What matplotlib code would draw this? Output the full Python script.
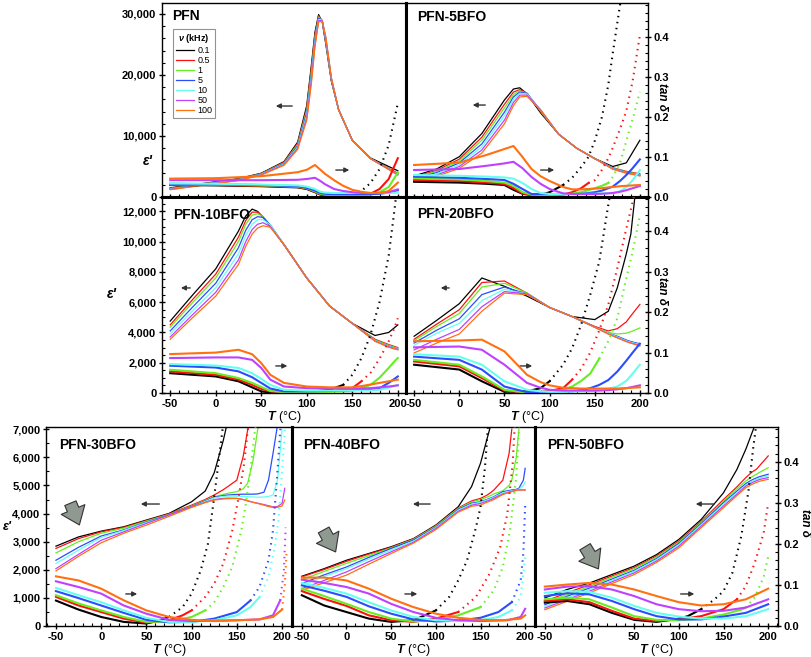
import numpy as np
import matplotlib
matplotlib.use("Agg")
import matplotlib.pyplot as plt
from matplotlib.ticker import MultipleLocator, FuncFormatter

plt.rcParams['font.family'] = ['Liberation Sans', 'DejaVu Sans']
plt.rcParams['font.weight'] = 'bold'
plt.rcParams['axes.unicode_minus'] = False
plt.rcParams['mathtext.fontset'] = 'custom'
plt.rcParams['mathtext.it'] = 'Liberation Sans:italic:bold'
plt.rcParams['mathtext.rm'] = 'Liberation Sans:bold'

nan = np.nan

# -----------------------------
# frequencies and line colours
# -----------------------------
freqs = ["0.1", "0.5", "1", "5", "10", "50", "100"]
colors = ["#000000", "#ff1010", "#66ee22", "#2a4dff", "#66ffee", "#c040ff", "#ff7010"]

# ---------
# PFN
# ---------
T_eps_pfn = [-50, -25, 0, 25, 50, 75, 90, 100, 105, 109, 113, 117, 121, 127, 135, 150, 170, 200]
eps_pfn = [
    [1500, 2000, 2500, 3000, 3900, 5800, 9000, 15000, 21500, 27000, 29900, 28700, 25000, 19000, 14300, 9300, 6400, 4300],
    [1450, 1950, 2450, 2950, 3850, 5700, 8800, 14600, 21000, 26600, 29700, 28800, 25200, 19100, 14300, 9300, 6300, 3900],
    [1400, 1900, 2400, 2900, 3800, 5600, 8600, 14200, 20500, 26200, 29500, 28900, 25400, 19200, 14300, 9300, 6300, 3800],
    [1350, 1850, 2350, 2850, 3750, 5500, 8400, 13800, 20000, 25800, 29300, 29000, 25600, 19300, 14300, 9300, 6300, 3750],
    [1300, 1800, 2300, 2800, 3700, 5400, 8200, 13400, 19500, 25400, 29100, 29000, 25800, 19400, 14300, 9300, 6300, 3700],
    [1250, 1750, 2250, 2750, 3650, 5300, 8000, 13000, 19000, 25000, 28900, 28900, 26000, 19500, 14300, 9300, 6300, 3650],
    [1200, 1700, 2200, 2700, 3600, 5200, 7800, 12600, 18500, 24600, 28700, 28800, 26200, 19600, 14300, 9300, 6300, 3600],
]
T_tan_pfn = [-50, 0, 50, 90, 100, 109, 115, 120, 130, 140, 150, 160, 170, 180, 190, 200]
tan_pfn = [
    [0.030, 0.029, 0.027, 0.024, 0.020, 0.012, 0.006, 0.004, 0.003, 0.004, 0.008, 0.015, 0.035, 0.070, 0.130, 0.234],
    [0.031, 0.030, 0.028, 0.025, 0.021, 0.013, 0.007, 0.005, 0.004, 0.004, 0.004, 0.005, 0.008, 0.020, 0.045, 0.097],
    [0.032, 0.031, 0.029, 0.026, 0.022, 0.014, 0.008, 0.006, 0.005, 0.005, 0.005, 0.005, 0.006, 0.012, 0.025, 0.061],
    [0.033, 0.032, 0.030, 0.027, 0.023, 0.016, 0.010, 0.008, 0.007, 0.007, 0.007, 0.007, 0.007, 0.008, 0.011, 0.017],
    [0.034, 0.033, 0.031, 0.029, 0.026, 0.020, 0.013, 0.011, 0.010, 0.010, 0.010, 0.010, 0.010, 0.010, 0.010, 0.011],
    [0.042, 0.042, 0.042, 0.043, 0.045, 0.048, 0.040, 0.032, 0.020, 0.015, 0.012, 0.010, 0.010, 0.010, 0.012, 0.019],
    [0.046, 0.047, 0.052, 0.062, 0.068, 0.080, 0.068, 0.058, 0.042, 0.028, 0.018, 0.013, 0.010, 0.010, 0.015, 0.036],
]
dot_pfn = [150, None, None, None, None, None, None]

# ---------
# PFN-5BFO
# ---------
T_eps_5 = [-50, -25, 0, 25, 50, 60, 67, 75, 90, 110, 130, 150, 170, 185, 200]
eps_5 = [
    [3450, 4600, 6600, 10400, 15900, 17700, 17900, 16900, 13800, 10300, 8000, 6300, 5000, 5600, 9300],
    [3300, 4350, 6200, 9800, 15200, 17200, 17600, 17000, 14000, 10300, 8000, 6300, 4800, 4200, 3800],
    [3200, 4200, 5900, 9300, 14600, 16800, 17400, 17000, 14100, 10300, 8000, 6300, 4750, 4100, 3700],
    [3050, 4000, 5600, 8700, 13900, 16400, 17200, 17000, 14200, 10300, 8000, 6300, 4700, 4050, 3600],
    [2900, 3800, 5300, 8200, 13300, 16000, 17000, 16900, 14250, 10300, 8000, 6300, 4650, 4000, 3550],
    [2750, 3600, 5000, 7700, 12600, 15500, 16700, 16700, 14300, 10300, 8000, 6300, 4600, 3950, 3500],
    [2600, 3400, 4700, 7200, 12000, 15000, 16400, 16500, 14300, 10300, 8000, 6300, 4550, 3900, 3450],
]
T_tan_5 = [-50, 0, 30, 50, 60, 70, 80, 90, 100, 115, 125, 135, 143, 150, 158, 165, 170, 178, 185, 192, 200]
tan_5 = [
    [0.038, 0.036, 0.033, 0.030, 0.018, 0.008, 0.005, 0.005, 0.012, 0.030, 0.048, 0.075, 0.100, 0.140, 0.200, 0.280, 0.360, 0.480, 0.600, 0.700, 0.800],
    [0.0425, 0.040, 0.036, 0.0325, 0.022, 0.009, 0.005, 0.004, 0.004, 0.006, 0.012, 0.022, 0.035, 0.042, 0.068, 0.097, 0.123, 0.170, 0.215, 0.290, 0.405],
    [0.0467, 0.044, 0.040, 0.036, 0.028, 0.012, 0.006, 0.005, 0.005, 0.006, 0.008, 0.012, 0.017, 0.022, 0.028, 0.035, 0.050, 0.085, 0.140, 0.195, 0.263],
    [0.051, 0.048, 0.045, 0.0425, 0.033, 0.020, 0.0075, 0.0075, 0.0075, 0.0075, 0.0075, 0.008, 0.010, 0.012, 0.016, 0.022, 0.026, 0.040, 0.055, 0.072, 0.094],
    [0.055, 0.053, 0.051, 0.049, 0.046, 0.035, 0.020, 0.010, 0.0075, 0.0075, 0.0075, 0.0075, 0.008, 0.008, 0.009, 0.010, 0.010, 0.014, 0.025, 0.042, 0.067],
    [0.0675, 0.070, 0.078, 0.084, 0.088, 0.072, 0.050, 0.033, 0.020, 0.009, 0.0075, 0.0075, 0.0075, 0.0075, 0.008, 0.009, 0.010, 0.013, 0.017, 0.022, 0.0275],
    [0.080, 0.086, 0.105, 0.120, 0.1275, 0.100, 0.070, 0.052, 0.040, 0.025, 0.019, 0.019, 0.020, 0.021, 0.022, 0.024, 0.025, 0.027, 0.028, 0.029, 0.030],
]
dot_5 = [110, 140, 160, None, None, None, None]

# ----------
# PFN-10BFO
# ----------
T_eps_10 = [-50, -25, 0, 25, 33, 40, 46, 52, 60, 75, 100, 125, 150, 175, 190, 200]
eps_10 = [
    [4750, 6500, 8200, 10700, 11700, 12150, 12000, 11600, 11000, 9800, 7600, 5750, 4600, 3800, 4000, 4500],
    [4500, 6200, 7850, 10300, 11400, 11950, 11950, 11650, 11050, 9800, 7600, 5750, 4600, 3550, 3200, 3000],
    [4350, 6000, 7600, 10000, 11150, 11750, 11850, 11650, 11100, 9800, 7600, 5750, 4600, 3500, 3150, 2950],
    [4100, 5700, 7250, 9600, 10750, 11450, 11650, 11600, 11100, 9800, 7600, 5750, 4600, 3450, 3100, 2900],
    [3900, 5450, 6950, 9200, 10400, 11150, 11450, 11450, 11100, 9800, 7600, 5750, 4600, 3450, 3080, 2900],
    [3700, 5200, 6650, 8800, 10000, 10800, 11150, 11250, 11000, 9800, 7600, 5750, 4600, 3430, 3050, 2880],
    [3550, 5000, 6400, 8500, 9700, 10500, 10900, 11050, 10950, 9800, 7600, 5750, 4600, 3420, 3020, 2850],
]
T_tan_10 = [-50, 0, 25, 40, 50, 60, 75, 100, 125, 140, 150, 160, 170, 180, 190, 197, 200]
tan_10 = [
    [0.049, 0.041, 0.029, 0.014, 0.004, 0.001, 0.000, 0.002, 0.008, 0.020, 0.045, 0.086, 0.144, 0.226, 0.340, 0.465, 0.530],
    [0.0535, 0.045, 0.033, 0.020, 0.010, 0.004, 0.002, 0.002, 0.004, 0.008, 0.012, 0.029, 0.050, 0.085, 0.128, 0.165, 0.185],
    [0.0576, 0.049, 0.037, 0.025, 0.015, 0.005, 0.0025, 0.002, 0.003, 0.004, 0.006, 0.012, 0.020, 0.038, 0.062, 0.080, 0.0864],
    [0.0675, 0.063, 0.0535, 0.039, 0.025, 0.011, 0.004, 0.004, 0.005, 0.006, 0.007, 0.008, 0.008, 0.012, 0.025, 0.036, 0.041],
    [0.0716, 0.068, 0.062, 0.049, 0.035, 0.020, 0.008, 0.006, 0.006, 0.006, 0.006, 0.006, 0.006, 0.008, 0.013, 0.018, 0.020],
    [0.0864, 0.088, 0.088, 0.082, 0.062, 0.033, 0.016, 0.012, 0.011, 0.011, 0.011, 0.011, 0.012, 0.014, 0.016, 0.018, 0.019],
    [0.0963, 0.100, 0.107, 0.096, 0.074, 0.045, 0.025, 0.016, 0.014, 0.014, 0.014, 0.017, 0.021, 0.025, 0.029, 0.032, 0.033],
]
dot_10 = [130, 160, None, None, None, None, None]

# ----------
# PFN-20BFO
# ----------
T_eps_20 = [-50, -25, 0, 25, 50, 75, 100, 125, 150, 165, 175, 185, 190, 200]
eps_20 = [
    [3750, 4800, 5900, 7600, 7050, 6400, 5650, 5050, 4850, 5400, 6950, 9200, 10500, 16000],
    [3550, 4550, 5500, 7300, 7400, 6600, 5650, 5050, 4400, 4100, 4250, 4700, 5100, 5850],
    [3450, 4400, 5250, 7000, 7250, 6600, 5650, 5050, 4350, 4000, 3900, 3950, 4050, 4300],
    [3300, 4150, 4900, 6500, 7000, 6550, 5650, 5050, 4350, 3950, 3750, 3500, 3400, 3250],
    [3150, 3950, 4600, 6100, 6850, 6550, 5650, 5050, 4350, 3950, 3700, 3450, 3350, 3200],
    [2850, 3550, 4200, 5700, 6700, 6550, 5650, 5050, 4350, 3900, 3650, 3400, 3300, 3150],
    [2650, 3300, 3900, 5400, 6600, 6500, 5650, 5050, 4350, 3900, 3650, 3400, 3300, 3100],
]
T_tan_20 = [-50, 0, 25, 50, 75, 90, 100, 115, 125, 135, 145, 155, 165, 175, 185, 192, 200]
tan_20 = [
    [0.070, 0.058, 0.029, 0.003, 0.004, 0.012, 0.029, 0.070, 0.111, 0.169, 0.243, 0.325, 0.465, 0.600, 0.700, 0.800, 0.900],
    [0.078, 0.066, 0.037, 0.006, 0.001, 0.003, 0.005, 0.012, 0.033, 0.060, 0.100, 0.155, 0.218, 0.309, 0.407, 0.473, 0.550],
    [0.082, 0.070, 0.041, 0.008, 0.001, 0.002, 0.003, 0.008, 0.016, 0.030, 0.048, 0.085, 0.128, 0.185, 0.284, 0.350, 0.440],
    [0.090, 0.082, 0.058, 0.016, 0.002, 0.002, 0.002, 0.003, 0.004, 0.007, 0.012, 0.020, 0.032, 0.053, 0.080, 0.100, 0.122],
    [0.096, 0.090, 0.070, 0.029, 0.008, 0.004, 0.003, 0.003, 0.004, 0.004, 0.005, 0.007, 0.010, 0.016, 0.030, 0.048, 0.070],
    [0.113, 0.115, 0.107, 0.070, 0.025, 0.013, 0.008, 0.006, 0.006, 0.006, 0.006, 0.006, 0.007, 0.009, 0.012, 0.015, 0.019],
    [0.128, 0.130, 0.132, 0.103, 0.045, 0.027, 0.019, 0.013, 0.012, 0.011, 0.011, 0.011, 0.011, 0.011, 0.012, 0.013, 0.014],
]
dot_20 = [100, 125, 150, None, None, None, None]

# ----------
# PFN-30BFO
# ----------
T_eps_30 = [-50, -25, 0, 25, 50, 75, 100, 115, 125, 135, 140, 150, 157, 162, 168, 173, 180, 185, 190, 195, 200, 203]
eps_30 = [
    [2840, 3170, 3375, 3530, 3770, 4005, 4420, 4800, 5450, 6600, 7300, nan, nan, nan, nan, nan, nan, nan, nan, nan, nan, nan],
    [2760, 3110, 3350, 3510, 3750, 3990, 4300, 4500, 4660, 4850, 4960, 5190, 6030, 6980, 7600, nan, nan, nan, nan, nan, nan, nan],
    [2600, 3000, 3300, 3480, 3730, 3970, 4270, 4470, 4600, 4680, 4720, 4780, 4880, 5080, 5900, 6980, 7600, nan, nan, nan, nan, nan],
    [2340, 2800, 3200, 3420, 3700, 3950, 4250, 4450, 4580, 4640, 4660, 4680, 4690, 4690, 4690, 4700, 4760, 5190, 6140, 7150, nan, nan],
    [2220, 2700, 3150, 3400, 3680, 3930, 4230, 4430, 4560, 4610, 4620, 4620, 4610, 4600, 4590, 4580, 4590, 4610, 4660, 5190, 6980, nan],
    [2040, 2550, 3050, 3350, 3650, 3950, 4240, 4400, 4500, 4540, 4550, 4540, 4500, 4450, 4400, 4370, 4320, 4280, 4240, 4250, 4360, 4900],
    [1960, 2480, 2960, 3300, 3590, 3900, 4220, 4390, 4480, 4520, 4530, 4540, 4500, 4460, 4400, 4360, 4300, 4250, 4220, 4220, 4270, 4480],
]
tanT_30 = [
    [-50, -25, 0, 25, 50, 65, 75, 90, 100, 110, 118, 124, 130, 134, 137],
    [-50, -25, 0, 25, 50, 75, 90, 100, 115, 125, 135, 145, 152, 158, 162, 165],
    [-50, -25, 0, 25, 50, 75, 100, 115, 125, 135, 145, 155, 160, 165, 170, 173],
    [-50, -25, 0, 25, 50, 75, 100, 125, 150, 165, 175, 185, 190, 195, 198, 200],
    [-50, -25, 0, 25, 50, 75, 100, 125, 150, 165, 175, 185, 192, 196, 200, 203, 205],
    [-50, -25, 0, 25, 50, 75, 100, 150, 175, 190, 198, 202, 204],
    [-50, -25, 0, 25, 50, 75, 100, 125, 150, 175, 190, 200, 203, 205],
]
tan_30 = [
    [0.062, 0.040, 0.022, 0.010, 0.006, 0.014, 0.022, 0.046, 0.079, 0.135, 0.200, 0.298, 0.403, 0.476, 0.530],
    [0.071, 0.050, 0.034, 0.018, 0.008, 0.014, 0.026, 0.038, 0.071, 0.103, 0.152, 0.233, 0.314, 0.395, 0.476, 0.530],
    [0.075, 0.055, 0.038, 0.022, 0.010, 0.011, 0.022, 0.038, 0.058, 0.095, 0.144, 0.233, 0.298, 0.379, 0.476, 0.530],
    [0.085, 0.068, 0.050, 0.032, 0.015, 0.009, 0.010, 0.018, 0.034, 0.062, 0.095, 0.160, 0.233, 0.379, 0.476, 0.530],
    [0.093, 0.075, 0.058, 0.038, 0.020, 0.010, 0.010, 0.014, 0.026, 0.046, 0.070, 0.119, 0.192, 0.257, 0.379, 0.476, 0.530],
    [0.109, 0.095, 0.079, 0.050, 0.030, 0.015, 0.012, 0.014, 0.016, 0.026, 0.0625, 0.135, 0.240],
    [0.121, 0.111, 0.091, 0.0625, 0.038, 0.022, 0.015, 0.012, 0.014, 0.016, 0.022, 0.040, 0.100, 0.180],
]
dot_30 = [75, 100, 115, 165, 175, 198, 200]

# ----------
# PFN-40BFO
# ----------
T_eps_40 = [-50, -25, 0, 25, 50, 75, 100, 125, 140, 150, 157, 162, 165, 175, 182, 185, 190, 193, 198, 200]
eps_40 = [
    [1770, 2040, 2340, 2580, 2820, 3110, 3590, 4240, 4960, 5790, 6620, 7210, nan, nan, nan, nan, nan, nan, nan, nan],
    [1750, 2010, 2300, 2560, 2800, 3100, 3570, 4200, 4450, 4540, 4650, 4760, 4840, 5190, 6140, 7000, nan, nan, nan, nan],
    [1650, 1940, 2230, 2500, 2780, 3080, 3550, 4180, 4410, 4500, 4580, 4650, 4700, 4810, 5000, 5190, 6000, 7000, nan, nan],
    [1510, 1820, 2100, 2440, 2760, 3060, 3520, 4150, 4370, 4420, 4500, 4560, 4600, 4780, 4820, 4840, 4860, 4900, 5190, 5610],
    [1450, 1760, 2040, 2380, 2700, 3020, 3500, 4120, 4340, 4400, 4480, 4540, 4580, 4740, 4790, 4810, 4840, 4870, 5000, 5130],
    [1330, 1620, 1925, 2290, 2640, 2980, 3470, 4080, 4300, 4360, 4440, 4500, 4550, 4700, 4760, 4790, 4830, 4840, 4840, 4840],
    [1270, 1540, 1810, 2200, 2580, 2950, 3430, 4050, 4260, 4300, 4400, 4460, 4500, 4680, 4750, 4780, 4820, 4840, 4840, 4840],
]
tanT_40 = [
    [-50, -25, 0, 25, 50, 75, 100, 115, 125, 135, 145, 150, 155, 158, 160],
    [-50, -25, 0, 25, 50, 75, 100, 125, 145, 160, 172, 180, 186, 188, 190],
    [-50, -25, 0, 25, 50, 75, 100, 125, 150, 165, 175, 183, 190, 193, 195],
    [-50, -25, 0, 25, 50, 75, 100, 125, 150, 170, 185, 195, 198, 200],
    [-50, -25, 0, 25, 50, 75, 100, 125, 150, 170, 185, 195, 200],
    [-50, -25, 0, 25, 50, 75, 100, 125, 150, 180, 195, 200],
    [-50, -25, 0, 25, 50, 75, 100, 125, 150, 175, 195, 200],
]
tan_40 = [
    [0.075, 0.050, 0.034, 0.018, 0.010, 0.014, 0.038, 0.071, 0.111, 0.160, 0.241, 0.290, 0.387, 0.476, 0.530],
    [0.085, 0.066, 0.049, 0.026, 0.014, 0.010, 0.018, 0.034, 0.071, 0.127, 0.192, 0.273, 0.395, 0.476, 0.530],
    [0.091, 0.073, 0.054, 0.034, 0.018, 0.011, 0.015, 0.026, 0.046, 0.087, 0.144, 0.233, 0.363, 0.476, 0.530],
    [0.099, 0.086, 0.071, 0.048, 0.030, 0.016, 0.011, 0.013, 0.020, 0.034, 0.058, 0.111, 0.180, 0.294],
    [0.105, 0.093, 0.079, 0.058, 0.038, 0.022, 0.014, 0.012, 0.014, 0.022, 0.038, 0.071, 0.168],
    [0.113, 0.105, 0.095, 0.079, 0.054, 0.034, 0.020, 0.014, 0.012, 0.014, 0.022, 0.042],
    [0.118, 0.118, 0.111, 0.091, 0.0665, 0.046, 0.030, 0.020, 0.015, 0.014, 0.018, 0.026],
]
dot_40 = [100, 125, 150, 185, 185, None, None]

# ----------
# PFN-50BFO
# ----------
T_eps_50 = [-50, -25, 0, 25, 50, 75, 100, 125, 150, 165, 175, 182, 187, 190, 200]
eps_50 = [
    [1000, 1300, 1530, 1830, 2130, 2540, 3080, 3790, 4740, 5570, 6290, 6880, 7300, nan, nan],
    [880, 1180, 1470, 1780, 2080, 2490, 3020, 3720, 4500, 4950, 5280, 5480, 5580, 5690, 6050],
    [820, 1120, 1410, 1730, 2040, 2450, 2980, 3680, 4440, 4880, 5160, 5310, 5400, 5460, 5630],
    [760, 1060, 1350, 1670, 1980, 2400, 2940, 3640, 4390, 4800, 5070, 5200, 5270, 5310, 5400],
    [700, 1000, 1300, 1620, 1940, 2360, 2890, 3600, 4330, 4740, 5010, 5150, 5220, 5260, 5340],
    [640, 940, 1240, 1570, 1890, 2310, 2840, 3550, 4270, 4690, 4980, 5100, 5170, 5210, 5280],
    [580, 880, 1180, 1510, 1830, 2260, 2780, 3500, 4210, 4640, 4920, 5040, 5110, 5150, 5220],
]
T_tan_50 = [-50, -25, 0, 25, 50, 75, 100, 125, 150, 175, 200]
tanT_50 = [
    [-50, -25, 0, 25, 50, 75, 100, 110, 125, 140, 150, 160, 170, 178, 183, 186, 188],
    [-50, -25, 0, 25, 50, 75, 100, 125, 150, 165, 175, 185, 195, 200],
    [-50, -25, 0, 25, 50, 75, 100, 125, 150, 170, 175, 185, 195, 200],
    T_tan_50, T_tan_50, T_tan_50, T_tan_50,
]
tan_50 = [
    [0.057, 0.061, 0.053, 0.032, 0.015, 0.010, 0.018, 0.024, 0.041, 0.065, 0.085, 0.130, 0.220, 0.330, 0.430, 0.480, 0.530],
    [0.061, 0.065, 0.058, 0.037, 0.018, 0.012, 0.016, 0.024, 0.041, 0.065, 0.097, 0.154, 0.227, 0.300],
    [0.065, 0.069, 0.065, 0.045, 0.024, 0.015, 0.014, 0.018, 0.028, 0.040, 0.045, 0.070, 0.120, 0.170],
    [0.073, 0.080, 0.077, 0.061, 0.041, 0.024, 0.016, 0.016, 0.023, 0.032, 0.053],
    [0.081, 0.085, 0.083, 0.069, 0.049, 0.032, 0.023, 0.018, 0.018, 0.024, 0.041],
    [0.089, 0.096, 0.097, 0.089, 0.073, 0.053, 0.041, 0.036, 0.037, 0.045, 0.065],
    [0.096, 0.101, 0.105, 0.101, 0.089, 0.073, 0.058, 0.050, 0.053, 0.065, 0.091],
]
dot_50 = [125, 165, 175, None, None, None, None]

# ----------------
# figure and axes
# ----------------
W, H = 811, 657
fig = plt.figure(figsize=(W / 100, H / 100), dpi=100)


def rect(x0, y0, x1, y1):
    # pixel box -> figure fraction
    return [x0 / W, 1 - y1 / H, (x1 - x0) / W, (y1 - y0) / H]


comma = FuncFormatter(lambda v, p: f"{int(round(v)):,}")


def draw_tan(ax2, T, v, c, t0):
    T = np.array(T, float)
    v = np.array(v, float)
    if t0 is None:
        ax2.plot(T, v, color=c, lw=1.5)
    else:
        k = int(np.searchsorted(T, t0))
        ax2.plot(T[:k + 1], v[:k + 1], color=c, lw=1.5)
        ax2.plot(T[k:], v[k:], color=c, lw=1.5, ls=(0, (0.7, 2.2)))


def panel(box, name, Te, eps, Tt, tan, dots, elim, emaj, emin, xlim,
          left_lab, right_lab, bottom_lab, arrows, gray=None, inner=()):
    ax = fig.add_axes(rect(*box))
    ax2 = ax.twinx()
    lines = []
    for i in range(7):
        ln, = ax.plot(Te, np.array(eps[i], float), color=colors[i], lw=0.9)
        lines.append(ln)
    for i in range(7):
        draw_tan(ax2, Tt[i], tan[i], colors[i], dots[i])
    ax.set_xlim(*xlim)
    ax.set_ylim(0, elim)
    ax2.set_ylim(0, 0.485)
    ax.xaxis.set_major_locator(MultipleLocator(50))
    ax.xaxis.set_minor_locator(MultipleLocator(10))
    ax.yaxis.set_major_locator(MultipleLocator(emaj))
    ax.yaxis.set_minor_locator(MultipleLocator(emin))
    ax.yaxis.set_major_formatter(comma)
    ax2.yaxis.set_major_locator(MultipleLocator(0.1))
    ax2.yaxis.set_minor_locator(MultipleLocator(0.02))
    ax2.yaxis.set_major_formatter(FuncFormatter(lambda v, p: f"{v:.1f}"))
    for a in (ax, ax2):
        a.tick_params(which='major', direction='inout', length=5, width=1, labelsize=8, pad=1.5)
        a.tick_params(which='minor', direction='in', length=2.5, width=0.8)
    ax.tick_params(which='both', top=False, left=left_lab, labelleft=left_lab,
                   bottom=True, labelbottom=bottom_lab)
    ax2.tick_params(which='both', right=right_lab, labelright=right_lab)
    for s in ax2.spines.values():
        s.set_visible(False)
    for s in ax.spines.values():
        s.set_linewidth(1.0)
    for s in inner:
        ax.spines[s].set_linewidth(2.2)
    if bottom_lab:
        ax.set_xlabel(r"$T$ (°C)", fontsize=9, labelpad=0.5)
    ax.text(name[1], name[2], name[0], transform=ax.transAxes, fontsize=10,
            fontweight='bold', va='top')
    for (x0, x1, y) in arrows:
        ax.annotate('', xy=(x1, y), xytext=(x0, y), xycoords='axes fraction',
                    arrowprops=dict(arrowstyle='-|>', color='#333333', lw=1.0,
                                    mutation_scale=7))
    if gray is not None:
        ax.annotate('', xy=gray[1], xytext=gray[0], xycoords='axes fraction',
                    arrowprops=dict(arrowstyle='simple,head_length=0.75,head_width=1.15,tail_width=0.55',
                                    fc='#8f998f', ec='#333333', lw=0.8, mutation_scale=16))
    return ax, ax2, lines


xl_top = (-59, 209)
xl_bot = (-61, 211)

ax, _, lines = panel((162, 3, 406, 197), ("PFN", 0.04, 0.97), T_eps_pfn, eps_pfn,
                     [T_tan_pfn] * 7, tan_pfn, dot_pfn, 31800, 10000, 2000, xl_top,
                     True, False, False,
                     [(0.545, 0.455, 0.469), (0.701, 0.779, 0.139)], inner=('right', 'bottom'))
leg = ax.legend(lines, freqs, title=r"$\nu$ (kHz)", loc='upper left',
                bbox_to_anchor=(0.045, 0.866), borderaxespad=0, fancybox=False,
                prop={'size': 6.5, 'weight': 'normal'}, title_fontsize=6.5,
                handlelength=2.0, labelspacing=0.12, borderpad=0.3, handletextpad=0.4)
leg.get_frame().set_edgecolor('#777777')
leg.get_frame().set_linewidth(0.8)

panel((406, 3, 648, 197), ("PFN-5BFO", 0.045, 0.965), T_eps_5, eps_5,
      [T_tan_5] * 7, tan_5, dot_5, 31800, 10000, 2000, xl_top,
      False, True, False,
      [(0.339, 0.264, 0.474), (0.545, 0.624, 0.139)], inner=('left', 'bottom'))

panel((162, 197, 406, 393), ("PFN-10BFO", 0.046, 0.945), T_eps_10, eps_10,
      [T_tan_10] * 7, tan_10, dot_10, 12950, 2000, 500, xl_top,
      True, False, True,
      [(0.127, 0.066, 0.536), (0.455, 0.525, 0.138)], inner=('right', 'top'))

panel((406, 197, 648, 393), ("PFN-20BFO", 0.045, 0.949), T_eps_20, eps_20,
      [T_tan_20] * 7, tan_20, dot_20, 12950, 2000, 500, xl_top,
      False, True, True,
      [(0.190, 0.132, 0.536), (0.459, 0.533, 0.138)], inner=('left', 'top'))

panel((46, 427, 292, 626), ("PFN-30BFO", 0.054, 0.945), T_eps_30, eps_30,
      tanT_30, tan_30, dot_30, 7080, 1000, 500, xl_bot,
      True, False, True,
      [(0.472, 0.374, 0.613), (0.313, 0.382, 0.161)],
      gray=((0.095, 0.63), (0.14, 0.495)), inner=('right',))

panel((292, 427, 535, 626), ("PFN-40BFO", 0.044, 0.945), T_eps_40, eps_40,
      tanT_40, tan_40, dot_40, 7080, 1000, 500, xl_bot,
      False, False, True,
      [(0.580, 0.486, 0.613), (0.453, 0.527, 0.161)],
      gray=((0.125, 0.495), (0.185, 0.36)), inner=('left', 'right'))

panel((535, 427, 778, 626), ("PFN-50BFO", 0.048, 0.945), T_eps_50, eps_50,
      tanT_50, tan_50, dot_50, 7080, 1000, 500, xl_bot,
      False, True, True,
      [(0.749, 0.650, 0.613), (0.588, 0.667, 0.161)],
      gray=((0.2, 0.41), (0.267, 0.275)), inner=('left',))

# axis titles
for (x, y, fs) in [(148, 161, 10), (112, 294, 10), (7, 527, 9)]:
    fig.text(x / W, 1 - y / H, "ε'", style='italic', fontsize=fs, ha='center', va='center')
for (x, y) in [(662, 97), (662, 291), (805, 523)]:
    fig.text(x / W, 1 - y / H, "tan δ", style='italic', fontsize=8.5, rotation=270,
             ha='center', va='center')

fig.savefig("out.png", dpi=100)
